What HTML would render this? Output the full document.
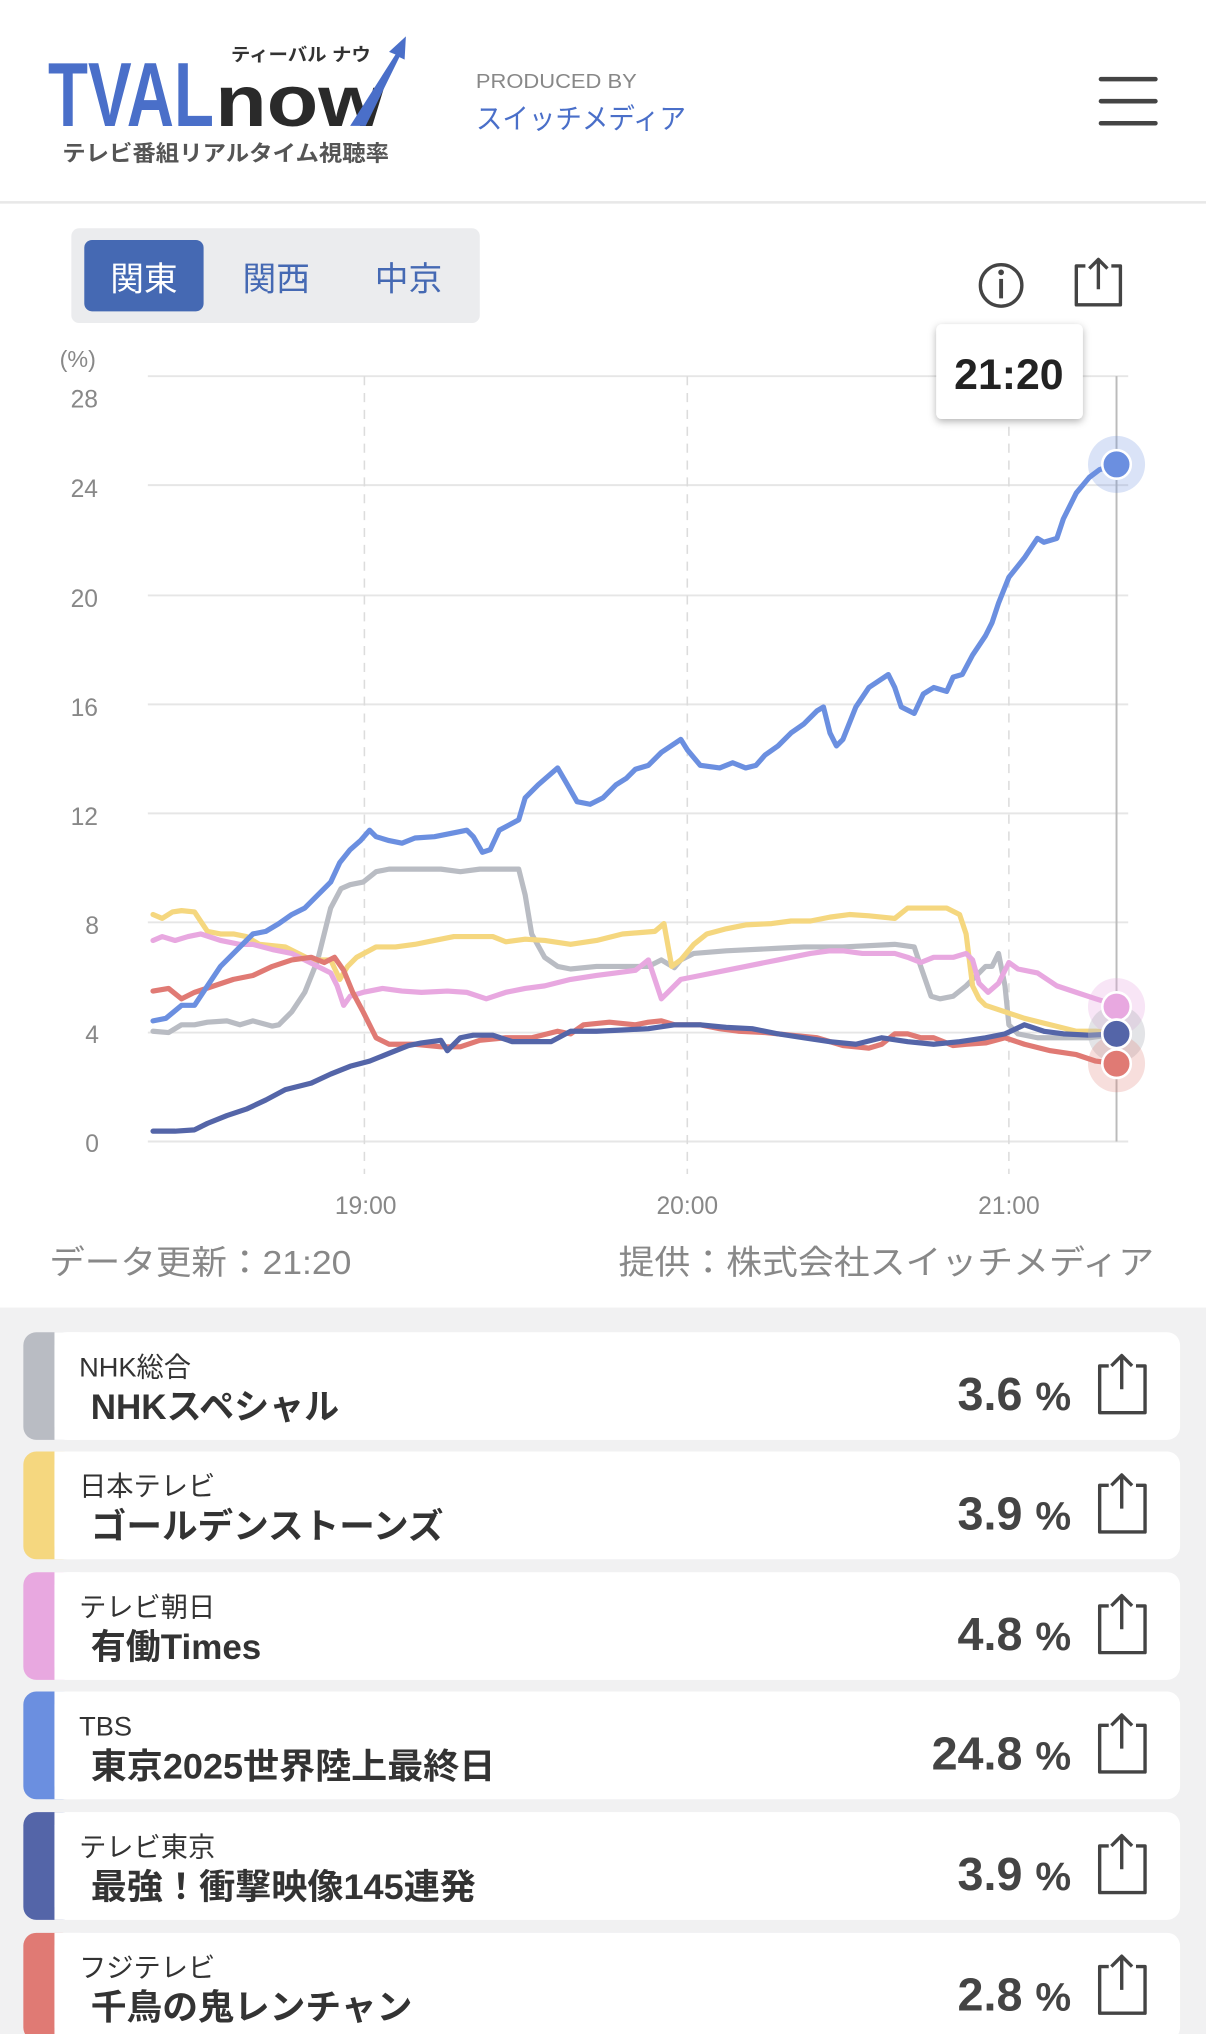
<!DOCTYPE html>
<html><head><meta charset="utf-8"><style>
html,body{margin:0;padding:0;background:#fff;}
svg{display:block;}
text{font-family:"Liberation Sans","Noto Sans CJK JP",sans-serif;}
</style></head><body>
<svg width="1206" height="2034" viewBox="0 0 930 1568" preserveAspectRatio="none" xmlns="http://www.w3.org/2000/svg">
<defs>
<filter id="sh" x="-20%" y="-20%" width="140%" height="150%"><feDropShadow dx="0" dy="2" stdDeviation="3" flood-color="#000" flood-opacity="0.3"/></filter>
</defs>
<rect width="930" height="1568" fill="#fff"/>
<text x="37" y="97" font-size="70" font-weight="bold" fill="#4a6fc9" textLength="128" lengthAdjust="spacingAndGlyphs">TVAL</text>
<text x="166" y="97" font-size="56" font-weight="bold" fill="#2a2a2a" textLength="130" lengthAdjust="spacingAndGlyphs">now</text>
<path d="M270 97 L305 42 L300 40 L313 28 L312 46 L308 44 L282 97 Z" fill="#4a6fc9"/>
<text x="178" y="47" font-size="14" font-weight="bold" fill="#333" textLength="108" lengthAdjust="spacingAndGlyphs">ティーバル ナウ</text>
<text x="48" y="124" font-size="17" font-weight="bold" fill="#555" textLength="252" lengthAdjust="spacingAndGlyphs">テレビ番組リアルタイム視聴率</text>
<text x="367" y="68" font-size="16" fill="#888" textLength="124" lengthAdjust="spacingAndGlyphs">PRODUCED BY</text>
<text x="367" y="99" font-size="22" fill="#4a6fc9" textLength="162" lengthAdjust="spacingAndGlyphs">スイッチメディア</text>
<g stroke="#444" stroke-width="3.5" stroke-linecap="round"><line x1="849" y1="61" x2="891" y2="61"/><line x1="849" y1="78" x2="891" y2="78"/><line x1="849" y1="95" x2="891" y2="95"/></g>
<rect x="0" y="155" width="930" height="2" fill="#e8e8e8"/>
<rect x="55" y="176" width="315" height="73" rx="6" fill="#ebecee"/>
<rect x="65" y="185" width="92" height="55" rx="6" fill="#4569b3"/>
<text x="111" y="224" font-size="26" fill="#fff" text-anchor="middle">関東</text>
<text x="213" y="224" font-size="26" fill="#4569b3" text-anchor="middle">関西</text>
<text x="315" y="224" font-size="26" fill="#4569b3" text-anchor="middle">中京</text>
<circle cx="772" cy="220" r="16" fill="none" stroke="#444" stroke-width="2.6"/>
<circle cx="772" cy="210" r="2.2" fill="#444"/>
<line x1="772" y1="215" x2="772" y2="230" stroke="#444" stroke-width="3"/>
<path d="M837 205 H830 V235 H864 V205 H857 M847 223 V200 M840 207 L847 200 L854 207" fill="none" stroke="#444" stroke-width="2.6" stroke-linejoin="round"/>
<text x="60" y="283" font-size="18" fill="#888" text-anchor="middle">(%)</text>
<g stroke="#e6e6e6" stroke-width="1.5">
<line x1="114" y1="290" x2="870" y2="290"/><line x1="114" y1="374" x2="870" y2="374"/><line x1="114" y1="459" x2="870" y2="459"/><line x1="114" y1="543" x2="870" y2="543"/><line x1="114" y1="627" x2="870" y2="627"/><line x1="114" y1="711" x2="870" y2="711"/><line x1="114" y1="796" x2="870" y2="796"/><line x1="114" y1="880" x2="870" y2="880"/>
</g>
<g stroke="#dcdcdc" stroke-width="1.2" stroke-dasharray="7,6"><line x1="281" y1="290" x2="281" y2="905"/><line x1="530" y1="290" x2="530" y2="905"/><line x1="778" y1="290" x2="778" y2="905"/></g>
<line x1="861" y1="290" x2="861" y2="880" stroke="#bbb" stroke-width="1.5"/>
<g font-size="19" fill="#888" text-anchor="middle">
<text x="65" y="314">28</text><text x="65" y="383">24</text><text x="65" y="468">20</text><text x="65" y="552">16</text><text x="65" y="636">12</text><text x="71" y="720">8</text><text x="71" y="804">4</text><text x="71" y="888">0</text>
<text x="282" y="936">19:00</text><text x="530" y="936">20:00</text><text x="778" y="936">21:00</text>
</g>
<g fill="none" stroke-width="4" stroke-linejoin="round" stroke-linecap="round">
<polyline stroke="#b9bcc3" points="118,795 130,796 140,790 150,790 160,788 175,787 185,790 195,787 210,791 215,790 225,780 235,765 245,740 255,700 263,685 270,682 280,680 290,672 300,670 320,670 340,670 355,672 370,670 385,670 400,670 405,690 410,720 420,738 430,745 440,747 460,745 480,745 500,745 510,740 520,746 525,740 535,735 560,733 600,731 620,730 650,730 690,728 705,730 710,745 718,768 725,770 735,768 745,760 760,745 765,745 770,735 775,760 778,790 785,797 800,800 820,800 840,800 861,797"/>
<polyline stroke="#f5d77f" points="118,705 125,708 133,703 140,702 150,703 160,718 170,720 180,720 190,722 200,728 220,730 240,740 255,740 262,755 268,745 275,738 290,730 305,730 320,728 335,725 350,722 370,722 380,722 390,726 405,724 420,725 440,728 460,725 480,720 505,718 512,712 518,745 525,740 535,728 545,720 560,716 575,713 595,712 610,710 625,710 640,707 655,705 670,706 690,708 700,700 710,700 730,700 740,705 745,720 750,760 755,770 760,775 775,780 790,785 810,790 830,795 845,795 861,796"/>
<polyline stroke="#e8a8e0" points="118,725 125,722 135,725 145,722 155,720 170,725 185,728 195,728 210,732 225,735 235,740 245,745 255,750 260,760 265,775 270,768 280,765 295,762 310,764 325,765 345,764 360,765 375,770 390,765 405,762 420,760 440,755 460,752 475,750 490,748 500,740 505,755 510,770 515,765 525,755 540,752 560,748 575,745 590,742 600,740 610,738 625,735 640,733 650,733 665,735 690,735 700,738 710,742 720,738 735,738 745,735 750,740 755,758 762,765 770,758 778,742 785,747 800,750 815,760 830,765 845,770 861,775"/>
<polyline stroke="#e07a74" points="118,764 130,762 140,770 150,765 165,760 180,755 195,752 210,745 225,740 240,738 250,742 258,738 265,748 272,765 280,780 290,800 300,805 320,805 340,807 355,807 370,802 390,800 410,800 430,795 440,797 450,790 470,788 490,790 500,788 510,787 520,790 540,790 555,793 570,795 590,796 610,798 630,800 650,806 670,808 680,805 690,797 700,797 710,800 720,800 735,806 745,805 760,804 775,800 790,805 810,810 830,813 845,818 861,820"/>
<polyline stroke="#5465a8" points="118,872 135,872 150,871 160,866 175,860 190,855 205,848 220,840 240,835 255,828 270,822 285,818 300,812 315,806 325,804 340,802 345,810 355,800 365,798 380,798 395,803 410,803 425,803 440,795 460,795 480,794 500,793 520,790 540,790 560,792 580,793 600,797 620,800 640,803 660,805 680,800 700,803 720,805 740,803 760,800 775,797 790,790 805,795 820,797 840,798 861,797"/>
<polyline stroke="#6b8fe0" points="118,787 128,785 140,775 150,775 160,760 170,745 180,735 195,720 205,718 215,712 225,705 235,700 245,690 255,680 262,665 270,655 278,648 285,640 290,645 300,648 310,650 320,646 335,645 350,642 360,640 365,645 372,657 378,655 385,640 400,632 405,615 415,605 430,592 437,604 445,618 455,620 465,615 475,605 483,600 490,593 500,590 510,580 525,570 530,578 540,590 555,592 565,588 575,592 583,590 590,582 600,575 610,565 620,558 630,548 635,545 640,565 645,575 650,570 660,545 670,530 685,520 690,530 695,545 705,550 712,535 720,530 730,533 735,522 742,520 750,505 760,490 765,480 770,465 778,445 790,430 800,415 805,418 815,415 820,400 830,380 840,368 848,362 861,358"/>
</g>
<circle cx="861" cy="776" r="22" fill="#e8a8e0" opacity="0.3"/>
<circle cx="861" cy="797" r="22" fill="#b9bcc3" opacity="0.4"/>
<circle cx="861" cy="820" r="22" fill="#e07a74" opacity="0.25"/>
<circle cx="861" cy="358" r="22" fill="#6b8fe0" opacity="0.25"/>
<g stroke="#fff" stroke-width="2">
<circle cx="861" cy="776" r="11" fill="#e8a8e0"/>
<circle cx="861" cy="797" r="11" fill="#b9bcc3"/>
<circle cx="861" cy="797" r="11" fill="#5465a8"/>
<circle cx="861" cy="820" r="11" fill="#e07a74"/>
<circle cx="861" cy="358" r="11" fill="#6b8fe0"/>
</g>
<rect x="722" y="250" width="113" height="73" rx="4" fill="#fff" filter="url(#sh)"/>
<text x="778" y="300" font-size="33" font-weight="bold" fill="#222" text-anchor="middle">21:20</text>
<text x="38" y="982" font-size="26" fill="#888" textLength="233" lengthAdjust="spacingAndGlyphs">データ更新：21:20</text>
<text x="477" y="982" font-size="26" fill="#888" textLength="413" lengthAdjust="spacingAndGlyphs">提供：株式会社スイッチメディア</text>
<rect x="0" y="1008" width="930" height="560" fill="#f1f1f2"/>
<g>
<g transform="translate(0,1027)">
<rect x="18" y="0" width="40" height="83" rx="10" fill="#b9bcc3"/><rect x="42" y="0" width="868" height="83" rx="10" fill="#fff"/><rect x="42" y="0" width="20" height="83" fill="#fff"/>
<text x="61" y="34" font-size="21" fill="#333">NHK総合</text><text x="70" y="67" font-size="27" font-weight="bold" fill="#333">NHKスペシャル</text>
<text x="826" y="60" font-size="36" font-weight="bold" fill="#444" text-anchor="end">3.6 <tspan font-size="31">%</tspan></text>
<path d="M855 26 H848 V62 H883 V26 H876 M865 44 V18 M857 26 L865 18 L873 26" fill="none" stroke="#444" stroke-width="2.6" stroke-linejoin="round"/></g>
<g transform="translate(0,1119)">
<rect x="18" y="0" width="40" height="83" rx="10" fill="#f5d77f"/><rect x="42" y="0" width="868" height="83" rx="10" fill="#fff"/><rect x="42" y="0" width="20" height="83" fill="#fff"/>
<text x="61" y="34" font-size="21" fill="#333">日本テレビ</text><text x="70" y="67" font-size="27" font-weight="bold" fill="#333" textLength="272" lengthAdjust="spacingAndGlyphs">ゴールデンストーンズ</text>
<text x="826" y="60" font-size="36" font-weight="bold" fill="#444" text-anchor="end">3.9 <tspan font-size="31">%</tspan></text>
<path d="M855 26 H848 V62 H883 V26 H876 M865 44 V18 M857 26 L865 18 L873 26" fill="none" stroke="#444" stroke-width="2.6" stroke-linejoin="round"/></g>
<g transform="translate(0,1212)">
<rect x="18" y="0" width="40" height="83" rx="10" fill="#e8a8e0"/><rect x="42" y="0" width="868" height="83" rx="10" fill="#fff"/><rect x="42" y="0" width="20" height="83" fill="#fff"/>
<text x="61" y="34" font-size="21" fill="#333">テレビ朝日</text><text x="70" y="67" font-size="27" font-weight="bold" fill="#333">有働Times</text>
<text x="826" y="60" font-size="36" font-weight="bold" fill="#444" text-anchor="end">4.8 <tspan font-size="31">%</tspan></text>
<path d="M855 26 H848 V62 H883 V26 H876 M865 44 V18 M857 26 L865 18 L873 26" fill="none" stroke="#444" stroke-width="2.6" stroke-linejoin="round"/></g>
<g transform="translate(0,1304)">
<rect x="18" y="0" width="40" height="83" rx="10" fill="#6b8fe0"/><rect x="42" y="0" width="868" height="83" rx="10" fill="#fff"/><rect x="42" y="0" width="20" height="83" fill="#fff"/>
<text x="61" y="34" font-size="21" fill="#333">TBS</text><text x="70" y="67" font-size="27" font-weight="bold" fill="#333" textLength="312" lengthAdjust="spacingAndGlyphs">東京2025世界陸上最終日</text>
<text x="826" y="60" font-size="36" font-weight="bold" fill="#444" text-anchor="end">24.8 <tspan font-size="31">%</tspan></text>
<path d="M855 26 H848 V62 H883 V26 H876 M865 44 V18 M857 26 L865 18 L873 26" fill="none" stroke="#444" stroke-width="2.6" stroke-linejoin="round"/></g>
<g transform="translate(0,1397)">
<rect x="18" y="0" width="40" height="83" rx="10" fill="#5465a8"/><rect x="42" y="0" width="868" height="83" rx="10" fill="#fff"/><rect x="42" y="0" width="20" height="83" fill="#fff"/>
<text x="61" y="34" font-size="21" fill="#333">テレビ東京</text><text x="70" y="67" font-size="27" font-weight="bold" fill="#333" textLength="297" lengthAdjust="spacingAndGlyphs">最強！衝撃映像145連発</text>
<text x="826" y="60" font-size="36" font-weight="bold" fill="#444" text-anchor="end">3.9 <tspan font-size="31">%</tspan></text>
<path d="M855 26 H848 V62 H883 V26 H876 M865 44 V18 M857 26 L865 18 L873 26" fill="none" stroke="#444" stroke-width="2.6" stroke-linejoin="round"/></g>
<g transform="translate(0,1490)">
<rect x="18" y="0" width="40" height="83" rx="10" fill="#e07a74"/><rect x="42" y="0" width="868" height="83" rx="10" fill="#fff"/><rect x="42" y="0" width="20" height="83" fill="#fff"/>
<text x="61" y="34" font-size="21" fill="#333">フジテレビ</text><text x="70" y="67" font-size="27" font-weight="bold" fill="#333" textLength="248" lengthAdjust="spacingAndGlyphs">千鳥の鬼レンチャン</text>
<text x="826" y="60" font-size="36" font-weight="bold" fill="#444" text-anchor="end">2.8 <tspan font-size="31">%</tspan></text>
<path d="M855 26 H848 V62 H883 V26 H876 M865 44 V18 M857 26 L865 18 L873 26" fill="none" stroke="#444" stroke-width="2.6" stroke-linejoin="round"/></g>
</g>
</svg>
</body></html>
